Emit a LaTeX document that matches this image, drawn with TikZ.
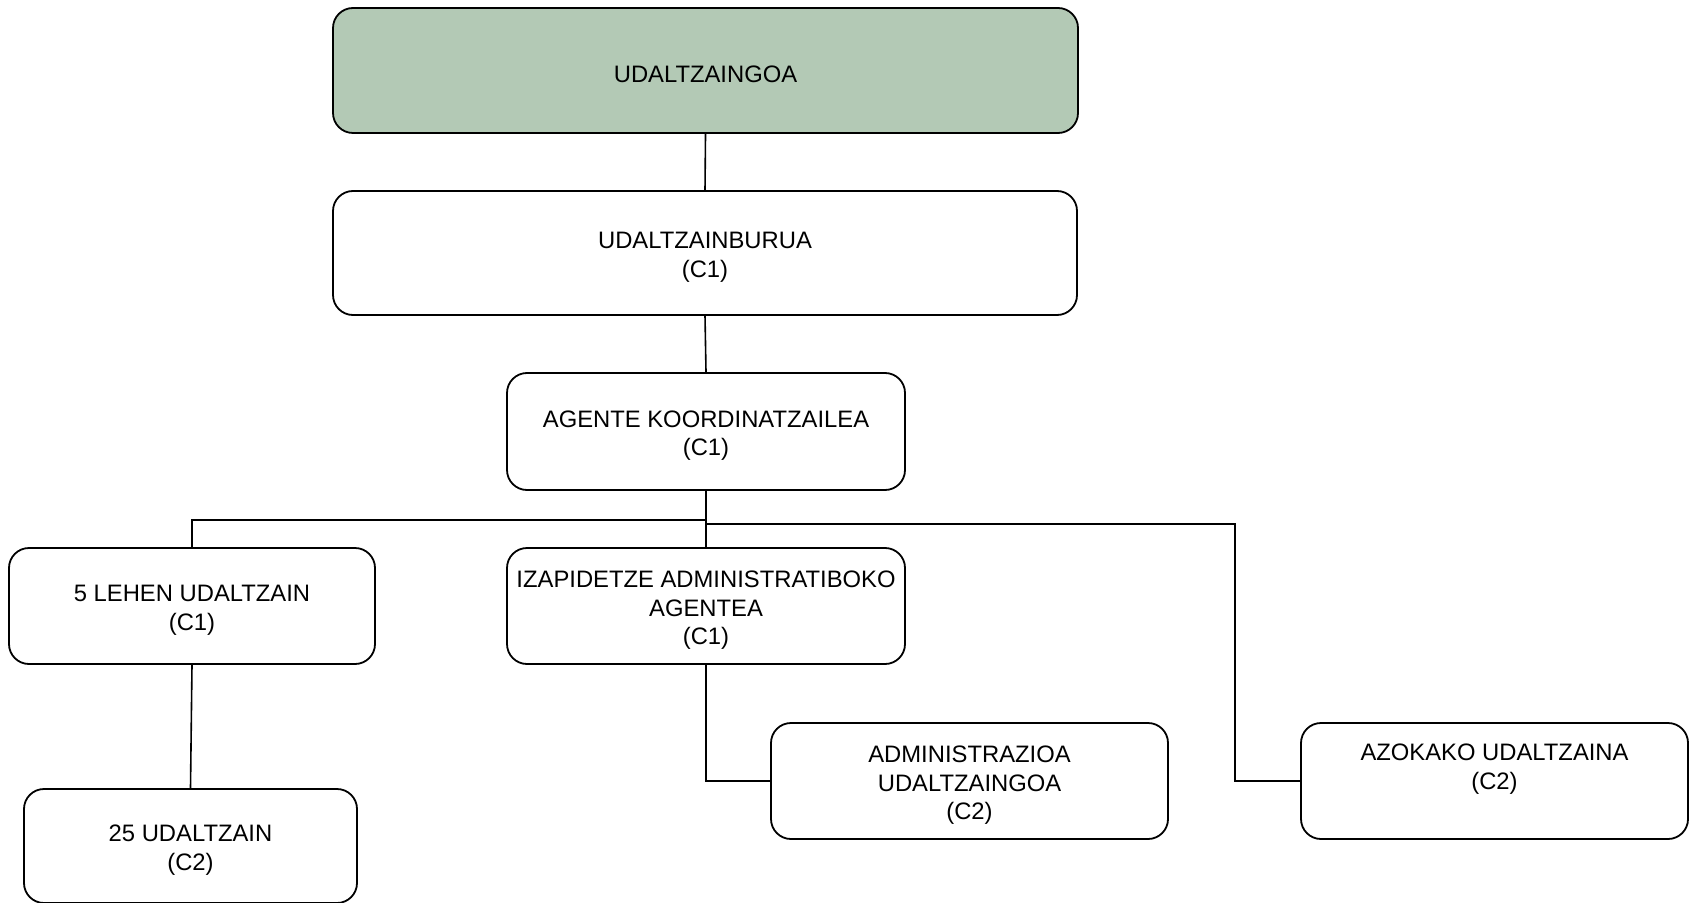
\documentclass[tikz,border=0pt]{standalone}
\usepackage{fontspec}
\setmainfont{Liberation Sans}
\definecolor{boxgreen}{RGB}{179,201,181}
\newcommand{\tstrut}{\rule{0pt}{12.5pt}}
\begin{document}
\begin{tikzpicture}[x=0.5pt,y=-0.5pt,
  orgbox/.style={draw=black, line width=0.9pt, rounded corners=10pt, fill=white,
    inner sep=0pt, align=center, font=\fontsize{11.9pt}{14.25pt}\selectfont},
  link/.style={draw=black, line width=0.8pt}]
\useasboundingbox (0,0) rectangle (1689,903);
% boxes (centre, size in px)
\node[orgbox, fill=boxgreen, minimum width=372.5pt, minimum height=62.5pt] (top) at (705.5,70.5) {\tstrut UDALTZAINGOA};
\node[orgbox, minimum width=372pt, minimum height=62pt] (burua) at (705,253) {\tstrut UDALTZAINBURUA\\(C1)};
\node[orgbox, minimum width=199pt, minimum height=58.5pt] (agente) at (706,431.5) {\tstrut AGENTE KOORDINATZAILEA\\(C1)};
\node[orgbox, minimum width=183pt, minimum height=58pt] (lehen) at (192,606) {\tstrut 5 LEHEN UDALTZAIN\\(C1)};
\node[orgbox, minimum width=199pt, minimum height=58pt] (izap) at (706,606) {\tstrut IZAPIDETZE ADMINISTRATIBOKO\\AGENTEA\\(C1)};
\node[orgbox, minimum width=198.5pt, minimum height=58pt] (admin) at (969.5,781) {\tstrut ADMINISTRAZIOA\\UDALTZAINGOA\\(C2)};
\node[orgbox, minimum width=193.5pt, minimum height=58pt] (azok) at (1494.5,781) {};
\node[orgbox, draw=none, fill=none] (azoktext) at (1494.5,765) {\tstrut AZOKAKO UDALTZAINA\\(C2)};
\node[orgbox, minimum width=166.5pt, minimum height=57pt] (u25) at (190.5,846) {\tstrut 25 UDALTZAIN\\(C2)};
% connectors
\coordinate (azk) at (1235,524);
\draw[link] (top.south) -- (burua.north);
\draw[link] (burua.south) -- (agente.north);
\draw[link] (agente.south) -- (izap.north);
\draw[link] (agente.south) -- ++(0,29) -| (lehen.north);
\draw[link] (agente.south) |- (azk) |- (azok.west);
\draw[link] (izap.south) |- (admin.west);
\draw[link] (lehen.south) -- (u25.north);
\end{tikzpicture}
\end{document}
